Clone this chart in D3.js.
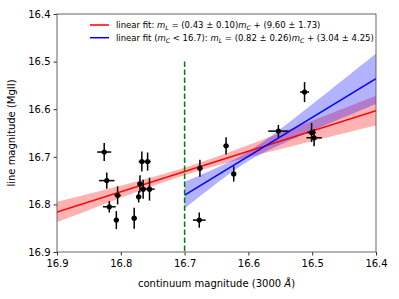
<!DOCTYPE html>
<html>
<head>
<meta charset="utf-8">
<script src="https://cdn.jsdelivr.net/npm/d3@7"></script>
<style>
  body { margin: 0; background: #fff; }
  svg { font-family: "DejaVu Sans", sans-serif; }
</style>
</head>
<body>
<div id="chart"></div>
<script>
// continuum magnitude (x) and line magnitude (y), with errors
var contMag = [16.826, 16.822, 16.818, 16.805, 16.807, 16.779, 16.772, 16.770, 16.767, 16.758,
               16.765, 16.755, 16.676, 16.635, 16.623, 16.677, 16.553, 16.512, 16.501, 16.497];
var contErr = [0.011, 0.012, 0.010, 0.005, 0.004, 0.004, 0.004, 0.004, 0.005, 0.005,
               0.005, 0.008, 0.004, 0.004, 0.004, 0.010, 0.016, 0.007, 0.007, 0.012];
var lineMag = [16.690, 16.750, 16.805, 16.781, 16.833, 16.829, 16.784, 16.757, 16.710, 16.710,
               16.768, 16.768, 16.724, 16.677, 16.736, 16.833, 16.646, 16.564, 16.649, 16.660];
var lineErr = [0.019, 0.017, 0.012, 0.019, 0.019, 0.022, 0.012, 0.018, 0.021, 0.019,
               0.020, 0.024, 0.018, 0.018, 0.016, 0.016, 0.013, 0.021, 0.020, 0.018];

// fits: slope, intercept, x range, band (1 sigma) pivot / width / slope error
var fitNames = ['all', 'bright'];
var fitSlope = [0.426, 0.815];
var fitIntercept = [9.6166, 3.17];
var fitFrom = [16.9, 16.7];
var fitTo = [16.4, 16.4];
var bandPivot = [16.7, 16.6];
var bandSigma0 = [0.008, 0.010];
var bandSigmaSlope = [0.10, 0.26];
var fitColors = ['#ff0000', '#0000ff'];

var xTicks = [16.9, 16.8, 16.7, 16.6, 16.5, 16.4];
var yTicks = [16.4, 16.5, 16.6, 16.7, 16.8, 16.9];
var cutMag = 16.7;

var width = 399, height = 299,
    margin = { top: 14, right: 23, bottom: 47, left: 57 };

var svg = d3.select('#chart').append('svg')
    .attr('width', width)
    .attr('height', height);

var x = d3.scaleLinear().domain([16.9, 16.4]).range([margin.left, width - margin.right]);
var y = d3.scaleLinear().domain([16.4, 16.9]).range([margin.top, height - margin.bottom]);

var plot = svg.append('g');
plot.append('clipPath').attr('id', 'clip')
    .append('rect')
    .attr('x', margin.left).attr('y', margin.top)
    .attr('width', width - margin.left - margin.right)
    .attr('height', height - margin.top - margin.bottom);

var inner = plot.append('g').attr('clip-path', 'url(#clip)');

// confidence bands
fitNames.forEach(function (n, i) {
    var xs = d3.range(0, 51).map(function (k) {
        return fitFrom[i] + (fitTo[i] - fitFrom[i]) * k / 50;
    });
    var sig = function (d) {
        return Math.sqrt(Math.pow(bandSigma0[i], 2) + Math.pow(bandSigmaSlope[i] * (d - bandPivot[i]), 2));
    };
    var area = d3.area()
        .x(function (d) { return x(d); })
        .y0(function (d) { return y(fitSlope[i] * d + fitIntercept[i] - sig(d)); })
        .y1(function (d) { return y(fitSlope[i] * d + fitIntercept[i] + sig(d)); });
    inner.append('path')
        .datum(xs)
        .attr('d', area)
        .attr('fill', fitColors[i])
        .attr('fill-opacity', 0.3)
        .attr('stroke', 'none');
});

// fit lines
fitNames.forEach(function (n, i) {
    inner.append('line')
        .attr('x1', x(fitFrom[i])).attr('y1', y(fitSlope[i] * fitFrom[i] + fitIntercept[i]))
        .attr('x2', x(fitTo[i])).attr('y2', y(fitSlope[i] * fitTo[i] + fitIntercept[i]))
        .attr('stroke', fitColors[i])
        .attr('stroke-width', 1.5);
});

// cut line
inner.append('line')
    .attr('x1', x(cutMag)).attr('x2', x(cutMag))
    .attr('y1', y(16.5)).attr('y2', y(16.9))
    .attr('stroke', '#008000')
    .attr('stroke-width', 1.5)
    .attr('stroke-dasharray', '5.5,2.5');

// error bars and points
var pts = contMag.map(function (d, i) {
    return { x: d, xe: contErr[i], y: lineMag[i], ye: lineErr[i] };
});
var g = inner.selectAll('.pt').data(pts).enter().append('g').attr('class', 'pt');
g.append('line')
    .attr('x1', function (d) { return x(d.x - d.xe); })
    .attr('x2', function (d) { return x(d.x + d.xe); })
    .attr('y1', function (d) { return y(d.y); })
    .attr('y2', function (d) { return y(d.y); })
    .attr('stroke', '#000').attr('stroke-width', 1.5);
g.append('line')
    .attr('x1', function (d) { return x(d.x); })
    .attr('x2', function (d) { return x(d.x); })
    .attr('y1', function (d) { return y(d.y - d.ye); })
    .attr('y2', function (d) { return y(d.y + d.ye); })
    .attr('stroke', '#000').attr('stroke-width', 1.5);
g.append('circle')
    .attr('cx', function (d) { return x(d.x); })
    .attr('cy', function (d) { return y(d.y); })
    .attr('r', 2.6)
    .attr('fill', '#000');

// axes
var xAxis = d3.axisBottom(x).tickValues(xTicks).tickFormat(d3.format('.1f')).tickSizeOuter(0).tickSize(3.5);
var yAxis = d3.axisLeft(y).tickValues(yTicks).tickFormat(d3.format('.1f')).tickSizeOuter(0).tickSize(3.5);

svg.append('g')
    .attr('transform', 'translate(0,' + (height - margin.bottom) + ')')
    .call(xAxis)
    .call(function (a) {
        a.select('.domain').remove();
        a.selectAll('text').attr('font-size', 10).attr('fill', '#000').attr('dy', '0.8em').attr('font-family', 'DejaVu Sans');
        a.selectAll('line').attr('stroke', '#333');
    });
svg.append('g')
    .attr('transform', 'translate(' + margin.left + ',0)')
    .call(yAxis)
    .call(function (a) {
        a.select('.domain').remove();
        a.selectAll('text').attr('font-size', 10).attr('fill', '#000').attr('font-family', 'DejaVu Sans');
        a.selectAll('line').attr('stroke', '#333');
    });

// frame
svg.append('rect')
    .attr('x', margin.left).attr('y', margin.top)
    .attr('width', width - margin.left - margin.right)
    .attr('height', height - margin.top - margin.bottom)
    .attr('fill', 'none')
    .attr('stroke', '#555')
    .attr('stroke-width', 0.9);

// axis labels
var xl = svg.append('text')
    .attr('x', (margin.left + width - margin.right) / 2)
    .attr('y', 287)
    .attr('text-anchor', 'middle')
    .attr('font-size', 10);
xl.append('tspan').text('continuum magnitude (3000 ');
xl.append('tspan').attr('font-style', 'italic').text('Å');
xl.append('tspan').text(')');

svg.append('text')
    .attr('transform', 'translate(15,' + ((margin.top + height - margin.bottom) / 2) + ') rotate(-90)')
    .attr('text-anchor', 'middle')
    .attr('font-size', 10)
    .text('line magnitude (MgII)');

// legend: [text, style] with 0 = plain, 1 = italic, 2 = italic subscript
var legendRows = [
    [['linear fit: ', 0], ['m', 1], ['L', 2], [' = (0.43 ± 0.10)', 0], ['m', 1], ['C', 2], [' + (9.60 ± 1.73)', 0]],
    [['linear fit (', 0], ['m', 1], ['C', 2], [' < 16.7): ', 0], ['m', 1], ['L', 2], [' = (0.82 ± 0.26)', 0], ['m', 1], ['C', 2], [' + (3.04 ± 4.25)', 0]]
];
var leg = svg.append('g');
legendRows.forEach(function (row, i) {
    var ly = 25 + i * 12.7;
    leg.append('line')
        .attr('x1', 90).attr('x2', 109)
        .attr('y1', ly).attr('y2', ly)
        .attr('stroke', fitColors[i]).attr('stroke-width', 1.5);
    var t = leg.append('text')
        .attr('x', 116).attr('y', ly + 3)
        .attr('font-size', 8.5);
    row.forEach(function (p, k) {
        var s = t.append('tspan').text(p[0]);
        if (p[1] >= 1) s.attr('font-style', 'italic');
        if (p[1] === 2) s.attr('font-size', 6.2).attr('dy', 1.8);
        else if (k > 0 && row[k - 1][1] === 2) s.attr('dy', -1.8);
    });
});
</script>
</body>
</html>
